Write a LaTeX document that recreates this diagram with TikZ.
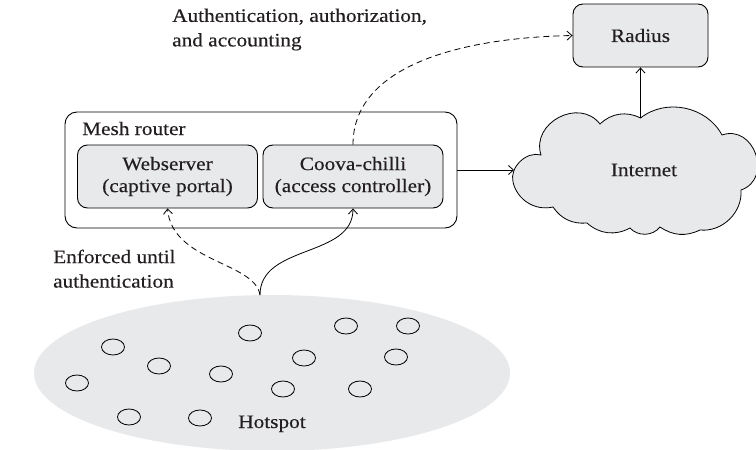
\documentclass[tikz,border=0pt]{standalone}
\usepackage{fontspec}
\setmainfont{Liberation Serif}[FakeStretch=1.12,FakeBold=0.4]
\usetikzlibrary{arrows.meta,shapes.geometric}
\definecolor{boxgray}{HTML}{E8E9EB}
\definecolor{ink}{HTML}{231F20}
\begin{document}
\begin{tikzpicture}[x=1pt,y=-1pt, font=\fontsize{19}{22}\selectfont, text=ink,
  box/.style={draw, fill=boxgray, rounded corners=10pt, line width=0.9pt, align=center, minimum width=180pt, minimum height=63pt, inner sep=0pt},
  arr/.style={-{Straight Barb[length=5pt,width=9pt]}, line width=0.8pt},
  dsh/.style={dash pattern=on 6pt off 4pt},
  station/.style={draw, ellipse, line width=0.8pt, minimum width=23pt, minimum height=16pt, inner sep=0pt},
  lbl/.style={align=left, anchor=north west, inner sep=0pt, font=\fontsize{19}{24.5}\selectfont}]
\useasboundingbox (0,0) rectangle (756,450);
% hotspot
\node[ellipse, fill=boxgray, minimum width=476pt, minimum height=156pt, inner sep=0pt] (hotspot) at (272,373) {};
\foreach \n/\p in {1/{(250,333)},2/{(346,326)},3/{(408,326)},4/{(113,347)},5/{(159,366)},6/{(221,374)},7/{(304,358)},8/{(396,357)},9/{(77,383)},10/{(283,389)},11/{(360,389)},12/{(129,417)},13/{(200,418)}}
  \node[station] (s\n) at \p {};
\node[anchor=base] (hslabel) at (272,428) {Hotspot};
\coordinate (hs) at (260,295);
% mesh router
\node[draw, rounded corners=12pt, line width=0.9pt, fill=white, minimum width=392pt, minimum height=116pt, inner sep=0pt] (mesh) at (261,170) {};
\node[anchor=base west, inner sep=0pt] (meshlabel) at (82,135) {Mesh router};
\node[box] (web) at (167.5,176.5) {Webserver\\(captive portal)};
\node[box] (coova) at (353,176.5) {Coova-chilli\\(access controller)};
\node[box, minimum width=135pt] (radius) at (640.5,35.5) {Radius};
% cloud
\coordinate (cA) at (513,182);
\coordinate (cB) at (541,155);
\coordinate (cC) at (600,124);
\coordinate (cD) at (640.5,118);
\coordinate (cE) at (722,135);
\coordinate (cF) at (741,190);
\coordinate (cG) at (700,230);
\coordinate (cH) at (660,227);
\coordinate (cH2) at (630,228);
\coordinate (cI) at (587,223);
\coordinate (cJ) at (553,207);
\coordinate (cloudL) at (514,170);
\draw[fill=boxgray, line width=0.8pt] (cA) to[bend left=60] (cB) to[bend left=80, looseness=1.3] (cC) to[bend left=35] (cD) to[bend left=50] (cE) to[bend left=90, looseness=1.5] (cF) to[bend left=50] (cG) to[bend left=30] (cH) to[bend left=50] (cH2) to[bend left=35] (cI) to[bend left=30] (cJ) to[bend left=45] (cA) -- cycle;
\node (internet) at (644,170) {Internet};
% connectors
\draw[arr] (mesh.east) -- (cloudL);
\draw[arr] (cD) -- (radius.south);
\draw[arr, dsh] (coova.north) .. controls (353,70) and (450,38) .. (radius.west);
\draw[arr] (hs) .. controls (260,244) and (353,258) .. (coova.south);
\draw[arr, dsh] (hs) .. controls (255,262) and (172,262) .. (web.south);
% labels
\node[lbl] (aaa) at (172,8.5) {Authentication, authorization,\\and accounting};
\node[lbl] (enf) at (53,249.5) {Enforced until\\authentication};
\end{tikzpicture}
\end{document}
